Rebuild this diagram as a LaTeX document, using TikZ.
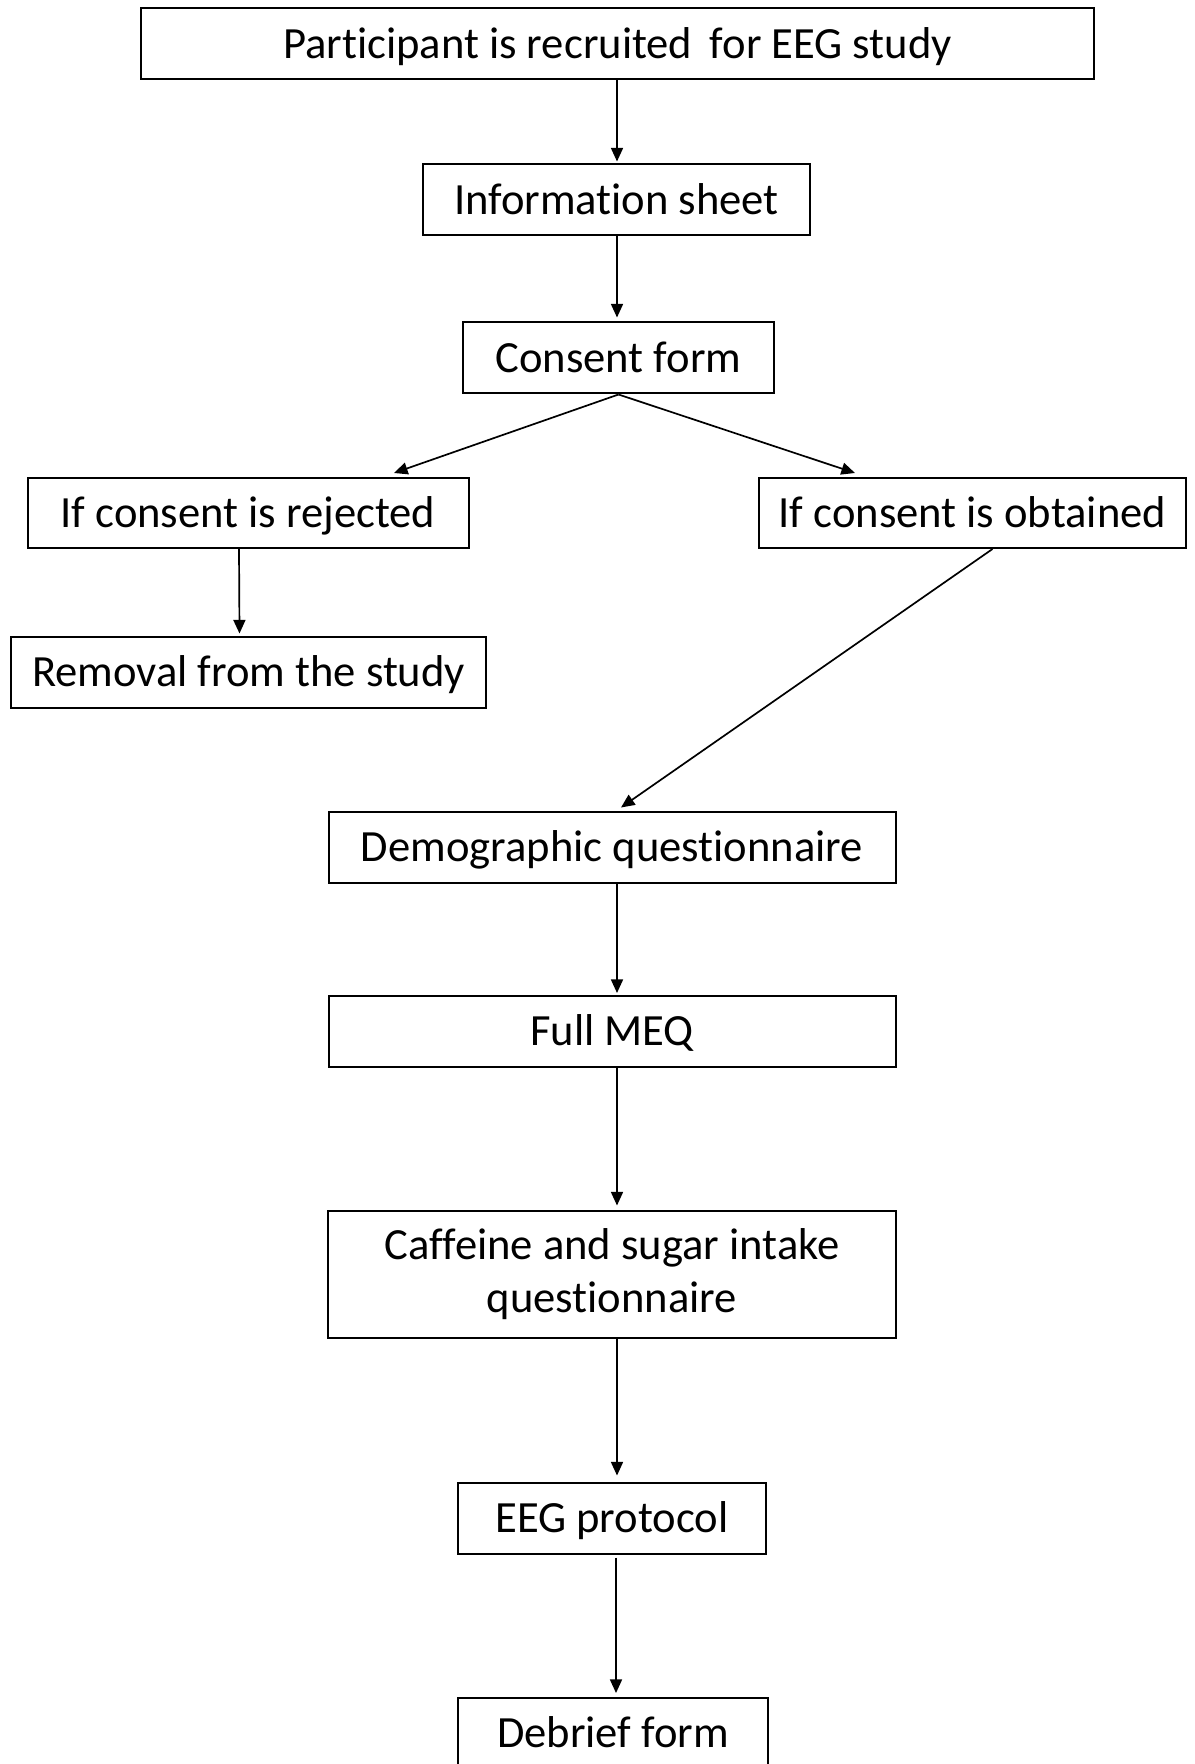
\documentclass[tikz,border=0pt]{standalone}
\usepackage{fontspec}
\setmainfont[Ligatures=NoCommon]{Carlito}
\usetikzlibrary{arrows.meta}
\begin{document}
\begin{tikzpicture}[x=0.5pt,y=-0.5pt,
  box/.style={draw=black,line width=1pt,inner sep=0pt,align=center,
    font=\fontsize{22.3}{26.5}\selectfont},
  line/.style={box,text height=14.2pt,text depth=0pt},
  arr/.style={draw=black,line width=0.85pt,-{Triangle[length=6.8pt,width=6pt]}}]
\useasboundingbox (0,0) rectangle (1194,1764);

% flow steps
\node[line,minimum width=476.5pt,minimum height=35.5pt] (part) at (617.5,44) {Participant is recruited\, for EEG study};
\node[line,minimum width=193.5pt,minimum height=35.5pt] (info) at (616.5,200) {Information sheet};
\node[line,minimum width=155.5pt,minimum height=35.5pt] (cons) at (618.5,358) {Consent form};
\node[line,minimum width=220.5pt,minimum height=35pt] (rej) at (248,513) {If consent is rejected};
\node[line,minimum width=213.5pt,minimum height=35pt] (obt) at (972.5,513) {If consent is obtained};
\node[line,minimum width=237.5pt,minimum height=35.5pt] (rem) at (248.5,672) {Removal from the study};
\node[line,minimum width=283.5pt,minimum height=35.5pt] (dem) at (612,847) {Demographic questionnaire};
\node[line,minimum width=283.5pt,minimum height=35.5pt] (meq) at (612,1031.5) {Full MEQ};
\node[box,minimum width=284pt,minimum height=63.5pt] (caf) at (612,1274) {Caffeine and sugar intake\\questionnaire};
\node[line,minimum width=154pt,minimum height=35.5pt] (eeg) at (612,1518) {EEG protocol};
\node[line,minimum width=155pt,minimum height=35pt] (deb) at (613,1733) {Debrief form};

% vertical spines of the main sequence
\coordinate (axis) at (617,0);
\coordinate (axisb) at (616,0);

% connectors
\draw[arr] (part.south -| axis) -- ([yshift=1pt]info.north -| axis);
\draw[arr] (info.south -| axis) -- ([yshift=2pt]cons.north -| axis);
\draw[arr] (cons.south) -- ([xshift=73pt,yshift=2pt]rej.north);
\draw[arr] (cons.south) -- ([xshift=-58.75pt,yshift=2pt]obt.north);
\draw[arr] ([xshift=-4.5pt]rej.south) -- ([xshift=-4.5pt,yshift=1pt]rem.north);
\draw[arr] ([xshift=10pt]obt.south) -- ([xshift=4.5pt,yshift=1.5pt]dem.north);
\draw[arr] (dem.south -| axis) -- ([yshift=1pt]meq.north -| axis);
\draw[arr] (meq.south -| axis) -- ([yshift=2pt]caf.north -| axis);
\draw[arr] (caf.south -| axis) -- ([yshift=3pt]eeg.north -| axis);
\draw[arr] ([yshift=-1.5pt]eeg.south -| axisb) -- ([yshift=2pt]deb.north -| axisb);
\end{tikzpicture}
\end{document}
